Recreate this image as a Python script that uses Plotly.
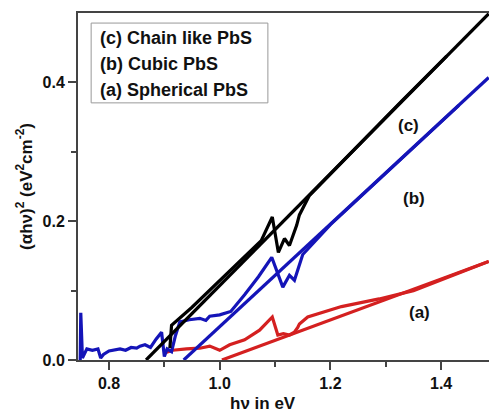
import plotly.graph_objects as go

# (a) Spherical PbS - red
a_x = [0.90, 0.915, 0.94, 0.964, 0.982, 1.0, 1.018, 1.045, 1.072, 1.095, 1.105, 1.115, 1.126, 1.135, 1.141, 1.144, 1.159, 1.22, 1.288, 1.35, 1.486]
a_y = [0.010, 0.014, 0.016, 0.017, 0.020, 0.014, 0.022, 0.029, 0.043, 0.062, 0.036, 0.038, 0.036, 0.040, 0.047, 0.052, 0.062, 0.077, 0.088, 0.100, 0.142]
a_fit_x = [1.004, 1.486]
a_fit_y = [0.0, 0.142]

# (b) Cubic PbS - blue
b_x = [0.748, 0.749, 0.752, 0.76, 0.77, 0.78, 0.785, 0.79, 0.80, 0.81, 0.82, 0.83, 0.84, 0.85, 0.856, 0.865, 0.875, 0.885, 0.895, 0.90, 0.905, 0.913,
       0.92, 0.928, 0.945, 0.964, 0.975, 0.982, 1.0, 1.02, 1.045, 1.07, 1.094, 1.114, 1.126, 1.135, 1.144, 1.15, 1.2, 1.288, 1.35, 1.432]
b_y = [0.0, 0.068, 0.003, 0.016, 0.014, 0.016, 0.003, 0.008, 0.013, 0.014, 0.016, 0.014, 0.018, 0.017, 0.020, 0.022, 0.018, 0.030, 0.040, 0.005, 0.016, 0.012,
       0.035, 0.055, 0.058, 0.060, 0.057, 0.063, 0.065, 0.070, 0.094, 0.120, 0.148, 0.105, 0.122, 0.115, 0.137, 0.152, 0.195, 0.260, 0.306, 0.367]
b_fit_x = [0.935, 1.486]
b_fit_y = [0.0, 0.407]

# (c) Chain like PbS - black
c_x = [0.910, 0.913, 0.95, 1.0, 1.05, 1.075, 1.095, 1.106, 1.117, 1.126, 1.139, 1.144, 1.162, 1.25, 1.33, 1.41]
c_y = [0.017, 0.050, 0.076, 0.114, 0.152, 0.172, 0.206, 0.155, 0.175, 0.165, 0.194, 0.209, 0.237, 0.309, 0.374, 0.438]
c_fit_x = [0.867, 1.486]
c_fit_y = [0.0, 0.499]

legend_lines = ["(c) Chain like PbS", "(b) Cubic PbS", "(a) Spherical PbS"]
curve_labels = ["(c)", "(b)", "(a)"]
label_x = [1.341, 1.351, 1.361]
label_y = [0.338, 0.233, 0.068]

RED = "#d42020"
BLUE = "#1414b8"
BLACK = "#000000"
FAM = "Liberation Sans, Arial"

fig = go.Figure()
for xs, ys, col in [
    (a_fit_x, a_fit_y, RED), (a_x, a_y, RED),
    (b_fit_x, b_fit_y, BLUE), (b_x, b_y, BLUE),
    (c_fit_x, c_fit_y, BLACK), (c_x, c_y, BLACK),
]:
    fig.add_trace(go.Scatter(x=xs, y=ys, mode="lines", line=dict(color=col, width=3.2),
                             showlegend=False, hoverinfo="skip"))

# legend box
fig.add_shape(type="rect", xref="paper", yref="paper", x0=0.032, x1=0.462, y0=0.741, y1=0.971,
              line=dict(color="#999", width=1), fillcolor="white", layer="above")
for t, py in zip(legend_lines, [0.928, 0.853, 0.778]):
    fig.add_annotation(xref="paper", yref="paper", x=0.049, y=py, text="<b>%s</b>" % t,
                       showarrow=False, xanchor="left", yanchor="middle",
                       font=dict(family=FAM, size=18, color="#111"))

for t, lx, ly in zip(curve_labels, label_x, label_y):
    fig.add_annotation(x=lx, y=ly, text="<b>%s</b>" % t, showarrow=False,
                       font=dict(family=FAM, size=17, color="#111"))

# x axis title (positioned as in the reference, left of centre)
fig.add_annotation(xref="paper", yref="paper", x=0.45, y=-0.124, text="<b>hν in eV</b>",
                   showarrow=False, xanchor="center", yanchor="middle",
                   font=dict(family=FAM, size=17, color="#111"))

axis_common = dict(showgrid=False, zeroline=False, showline=True, linecolor="#444", linewidth=2,
                   ticks="outside", ticklen=8, tickwidth=1.5, tickcolor="#444",
                   tickfont=dict(family=FAM, size=16, color="#111"))

fig.update_xaxes(range=[0.744, 1.4865], tickvals=[0.8, 1.0, 1.2, 1.4], ticktext=["<b>0.8</b>", "<b>1.0</b>", "<b>1.2</b>", "<b>1.4</b>"],
                 minor=dict(tickvals=[0.9, 1.1, 1.3], ticks="outside", ticklen=5, tickcolor="#444"),
                 mirror=True,
                 **axis_common)
fig.update_yaxes(range=[0, 0.5], tickvals=[0.0, 0.2, 0.4], ticktext=["<b>0.0</b>", "<b>0.2</b>", "<b>0.4</b>"],
                 minor=dict(tickvals=[0.1, 0.3], ticks="outside", ticklen=5, tickcolor="#444"),
                 title=dict(text="<b>(αhν)<sup>2</sup> (eV<sup>2</sup>cm<sup>-2</sup>)</b>",
                            font=dict(family=FAM, size=17, color="#111"), standoff=6),
                 **axis_common)

fig.update_layout(width=489, height=412, margin=dict(l=78, r=0, t=13, b=52, autoexpand=False),
                  plot_bgcolor="white", paper_bgcolor="white")
fig.write_html("out.html")
